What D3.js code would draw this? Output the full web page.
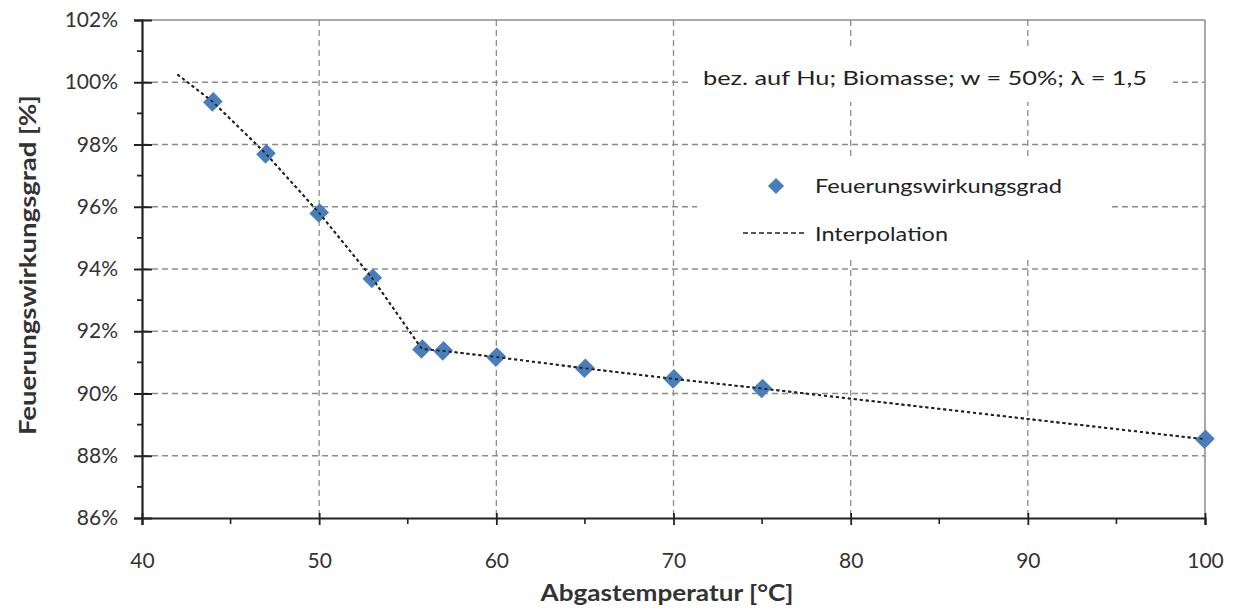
<!DOCTYPE html>
<html><head><meta charset="utf-8">
<script src="https://cdn.jsdelivr.net/npm/d3@7"></script>
<style>body{margin:0;background:#fff;} svg{display:block;}</style>
</head><body>
<svg id="c" width="1237" height="610"></svg>
<script>
const tempX = [44, 47, 50, 53, 55.8, 57, 60, 65, 70, 75, 100];
const effY  = [99.37, 97.7, 95.8, 93.7, 91.43, 91.37, 91.17, 90.81, 90.47, 90.16, 88.53];
const interpX = [42, 44, 47, 50, 53, 55.8, 57, 60, 65, 70, 75, 100];
const interpY = [100.25, 99.37, 97.7, 95.8, 93.7, 91.43, 91.37, 91.17, 90.81, 90.47, 90.16, 88.53];
const xTicks = [40, 50, 60, 70, 80, 90, 100];
const yTicks = [86, 88, 90, 92, 94, 96, 98, 100, 102];
const xTitle = "Abgastemperatur [°C]";
const yTitle = "Feuerungswirkungsgrad [%]";
const noteText = "bez. auf Hu; Biomasse; w = 50%; λ = 1,5";
const legendLabels = ["Feuerungswirkungsgrad", "Interpolation"];

const svg = d3.select("#c");
const FONT = "Lato, 'Open Sans', sans-serif";
const x = d3.scaleLinear().domain([40, 100]).range([142, 1205]);
const y = d3.scaleLinear().domain([86, 102]).range([518, 20]);
const blue = "#4a7ebb";

// gridlines
const grid = svg.append("g");
grid.selectAll("line.h").data(yTicks.filter(d => d > 86 && d < 102)).join("line")
  .attr("x1", x(40)).attr("x2", x(100)).attr("y1", d => y(d)).attr("y2", d => y(d))
  .attr("stroke", "#8c8c8c").attr("stroke-width", 1.3).attr("stroke-dasharray", "6,4");
grid.selectAll("line.v").data(xTicks.filter(d => d > 40 && d < 100)).join("line")
  .attr("x1", d => x(d)).attr("x2", d => x(d)).attr("y1", y(102)).attr("y2", y(86))
  .attr("stroke", "#8c8c8c").attr("stroke-width", 1.3).attr("stroke-dasharray", "6,4");

// top and right border
svg.append("line").attr("x1", x(40)).attr("x2", x(100)).attr("y1", y(102)).attr("y2", y(102))
  .attr("stroke", "#8c8c8c").attr("stroke-width", 1.5);
svg.append("line").attr("x1", x(100)).attr("x2", x(100)).attr("y1", y(102)).attr("y2", y(86))
  .attr("stroke", "#8c8c8c").attr("stroke-width", 1.5);

// white boxes for annotation and legend
svg.append("rect").attr("x", 690).attr("y", 48).attr("width", 483).attr("height", 54).attr("fill", "#fff");
svg.append("rect").attr("x", 697).attr("y", 157).attr("width", 415).attr("height", 101).attr("fill", "#fff");

// y axis
const yAxis = d3.axisLeft(y).tickValues(yTicks).tickFormat(d => d + "%").tickSize(8).tickPadding(16);
const gy = svg.append("g").attr("transform", `translate(${x(40)},0)`).call(yAxis);
gy.select(".domain").attr("stroke", "#222").attr("stroke-width", 2.2);
gy.selectAll(".tick line").attr("x2", 10).attr("x1", -8).attr("stroke", "#222").attr("stroke-width", 2);
gy.selectAll(".tick text").attr("font-family", FONT).attr("font-size", 21).attr("fill", "#333")
  .attr("x", -24);
const yMinor = d3.range(87, 102, 2);
svg.append("g").selectAll("line").data(yMinor).join("line")
  .attr("x1", x(40) - 5).attr("x2", x(40)).attr("y1", d => y(d)).attr("y2", d => y(d))
  .attr("stroke", "#222").attr("stroke-width", 1.8);

// x axis
const xAxis = d3.axisBottom(x).tickValues(xTicks).tickFormat(d3.format("d")).tickSize(7).tickPadding(28);
const gx = svg.append("g").attr("transform", `translate(0,${y(86)})`).call(xAxis);
gx.select(".domain").attr("stroke", "#222").attr("stroke-width", 2.2);
gx.selectAll(".tick line").attr("y1", -5).attr("y2", 7).attr("stroke", "#222").attr("stroke-width", 1.8);
gx.selectAll(".tick text").attr("font-family", FONT).attr("font-size", 21).attr("fill", "#333");
const xMinor = d3.range(45, 100, 10);
svg.append("g").selectAll("line").data(xMinor).join("line")
  .attr("x1", d => x(d)).attr("x2", d => x(d)).attr("y1", y(86)).attr("y2", y(86) + 6)
  .attr("stroke", "#222").attr("stroke-width", 1.6);

// interpolation line
const line = d3.line().x(d => x(d[0])).y(d => y(d[1]));
const pts = interpX.map((v, i) => [v, interpY[i]]);
svg.append("path").datum(pts)
  .attr("d", line).attr("fill", "none").attr("stroke", "#222").attr("stroke-width", 1.8)
  .attr("stroke-dasharray", "3,3");

// diamonds
const diamond = d3.symbol().type(d3.symbolSquare).size(175);
svg.append("g").selectAll("path").data(tempX.map((v, i) => [v, effY[i]])).join("path")
  .attr("d", diamond).attr("fill", blue)
  .attr("transform", d => `translate(${x(d[0])},${y(d[1])}) rotate(45) scale(1,1.1)`);
svg.append("path").datum(pts)
  .attr("d", line).attr("fill", "none").attr("stroke", "#222").attr("stroke-width", 1.8)
  .attr("stroke-dasharray", "3,3");

// annotation
svg.append("text").attr("x", 703).attr("y", 85).text(noteText)
  .attr("font-family", FONT).attr("font-size", 20).attr("fill", "#222")
  .attr("textLength", 444).attr("lengthAdjust", "spacingAndGlyphs");

// legend
svg.append("path").attr("d", d3.symbol().type(d3.symbolSquare).size(130)())
  .attr("fill", blue).attr("transform", "translate(776,186) rotate(45)");
svg.append("text").attr("x", 815).attr("y", 193).text(legendLabels[0])
  .attr("font-family", FONT).attr("font-size", 20).attr("fill", "#222")
  .attr("textLength", 247).attr("lengthAdjust", "spacingAndGlyphs");
svg.append("line").attr("x1", 743).attr("x2", 807).attr("y1", 233).attr("y2", 233)
  .attr("stroke", "#222").attr("stroke-width", 1.5).attr("stroke-dasharray", "5,3");
svg.append("text").attr("x", 815).attr("y", 241).text(legendLabels[1])
  .attr("font-family", FONT).attr("font-size", 20).attr("fill", "#222")
  .attr("textLength", 133).attr("lengthAdjust", "spacingAndGlyphs");

// axis titles
svg.append("text").attr("x", 667).attr("y", 601).attr("text-anchor", "middle").text(xTitle)
  .attr("font-family", FONT).attr("font-size", 22).attr("font-weight", "bold").attr("fill", "#333")
  .attr("textLength", 253).attr("lengthAdjust", "spacingAndGlyphs");
svg.append("text").attr("transform", "translate(36,265) rotate(-90)").attr("text-anchor", "middle").text(yTitle)
  .attr("font-family", FONT).attr("font-size", 22).attr("font-weight", "bold").attr("fill", "#333")
  .attr("textLength", 340).attr("lengthAdjust", "spacingAndGlyphs");
</script>
</body></html>
